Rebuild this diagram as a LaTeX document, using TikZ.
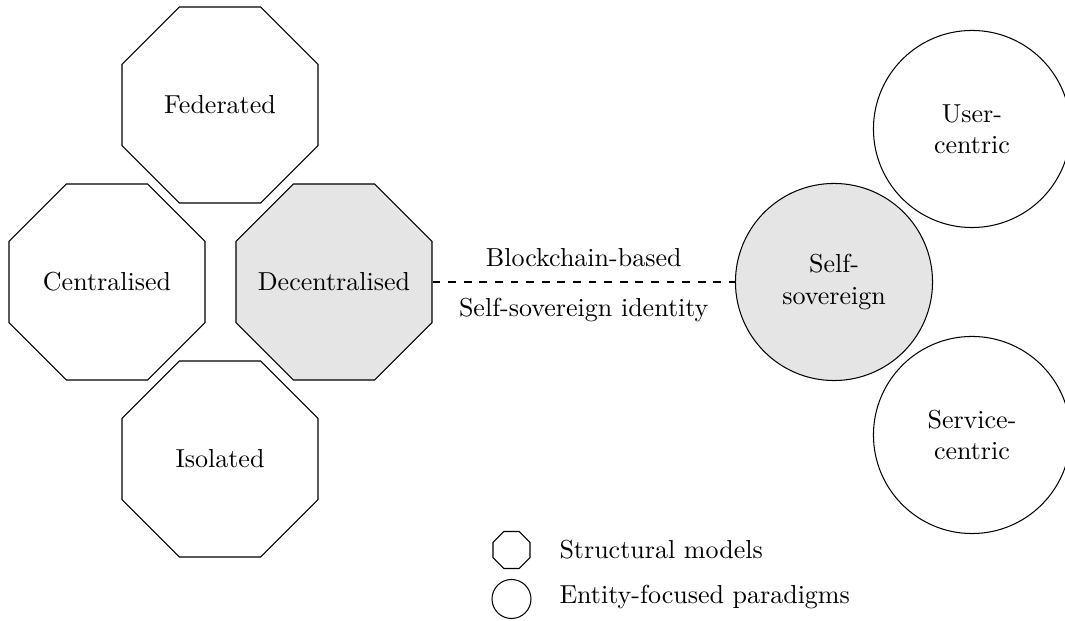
\documentclass[tikz,border=0pt]{standalone}
\usetikzlibrary{shapes.geometric}

\tikzset{
  model/.style={draw, regular polygon, regular polygon sides=8,
    minimum size=81.6pt, inner sep=0pt, label={center:#1}},
  paradigm/.style={draw, circle, minimum size=75.8pt, inner sep=0pt, align=center},
  focus/.style={fill=gray!20},
  legendoct/.style={draw, regular polygon, regular polygon sides=8,
    minimum size=15.4pt, inner sep=0pt},
  legendcirc/.style={draw, circle, minimum size=15pt, inner sep=0pt},
  legendtext/.style={anchor=west, inner sep=0pt},
  link/.style={dashed},
  linklabel/.style={midway, inner sep=3.33pt}
}

\begin{document}
\begin{tikzpicture}[x=0.3846pt, y=-0.3846pt]
  \useasboundingbox (0,0) rectangle (1065,621);

  % structural models (the label keeps the text from widening the octagon)
  \node[model=Federated] (fed) at (220,105) {};
  \node[model=Centralised] (cen) at (107,282) {};
  \node[model=Decentralised, focus] (dec) at (334,282) {};
  \node[model=Isolated] (iso) at (220,459) {};

  % entity-focused paradigms
  \node[paradigm, focus] (ssi) at (834,282) {Self-\\sovereign};
  \node[paradigm] (usr) at (972,129) {User-\\centric};
  \node[paradigm] (svc) at (972,435) {Service-\\centric};

  % link between the two families
  \draw[link] (dec.east) -- (ssi.west)
    node[linklabel, above=2.5pt] (lblA) {Blockchain-based}
    node[linklabel, below=2.5pt] (lblB) {Self-sovereign identity};

  % legend
  \node[legendoct] (kOct) at (511.5,550) {};
  \node[legendcirc] (kCirc) at (511.5,599) {};
  \node[legendtext] (kOctT) at (559,550) {Structural models};
  \node[legendtext] (kCircT) at (559,597) {Entity-focused paradigms};
\end{tikzpicture}
\end{document}
